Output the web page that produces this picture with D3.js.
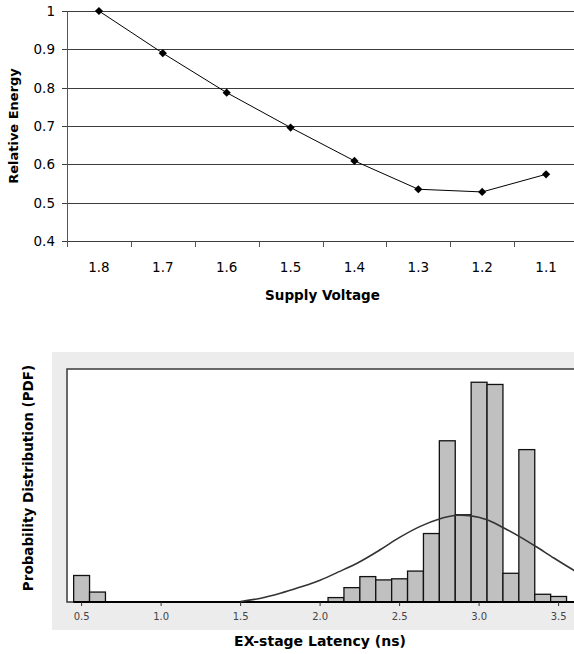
<!DOCTYPE html>
<html>
<head>
<meta charset="utf-8">
<script src="https://cdn.jsdelivr.net/npm/d3@7"></script>
<style>
  body { margin: 0; background: #fff; }
  svg { display: block; }
</style>
</head>
<body>
<div id="chart"></div>
<script>
// === DATA: top chart (relative energy vs supply voltage) ===
const voltages = ["1.8", "1.7", "1.6", "1.5", "1.4", "1.3", "1.2", "1.1"];
const relEnergy = [1.0, 0.89, 0.787, 0.696, 0.609, 0.535, 0.528, 0.574];
const energyTicks = [0.4, 0.5, 0.6, 0.7, 0.8, 0.9, 1];

// === DATA: bottom chart (EX-stage latency histogram, % of samples per 0.1 ns bin) ===
const binCenters = [0.5, 0.6, 2.1, 2.2, 2.3, 2.4, 2.5, 2.6, 2.7, 2.8, 2.9, 3.0, 3.1, 3.2, 3.3, 3.4, 3.5];
const binValues  = [2.4, 0.9, 0.4, 1.3, 2.3, 2.0, 2.1, 2.8, 6.2, 14.6, 7.9, 19.9, 19.7, 2.6, 13.8, 0.7, 0.5];
// fitted curve
const curveX = [1.50, 1.62, 1.75, 1.87, 2.00, 2.12, 2.25, 2.38, 2.50, 2.63, 2.75, 2.86, 2.94, 3.05, 3.15, 3.26, 3.36, 3.47, 3.59, 3.65];
const curveY = [0.05, 0.32, 0.79, 1.33, 1.98, 2.75, 3.65, 4.75, 5.85, 6.85, 7.52, 7.85, 7.82, 7.45, 6.75, 5.88, 5.0, 3.98, 2.92, 2.45];
const latencyTicks = [0.5, 1.0, 1.5, 2.0, 2.5, 3.0, 3.5];

const W = 574, H = 654;
const svg = d3.select("#chart").append("svg")
  .attr("width", W).attr("height", H);

const font = "'DejaVu Sans', Verdana, sans-serif";

// ---------- TOP CHART ----------
const box1 = { left: 67, right: 578, top: 11, bottom: 241 };

const x = d3.scaleBand().domain(voltages).range([box1.left, box1.right]).padding(0);
const y = d3.scaleLinear().domain([0.4, 1]).range([box1.bottom, box1.top]);

const g1 = svg.append("g");

// gridlines + y ticks
g1.selectAll("line.grid")
  .data(energyTicks)
  .join("line")
    .attr("x1", box1.left - 5).attr("x2", W)
    .attr("y1", d => Math.round(y(d)) + 0.5).attr("y2", d => Math.round(y(d)) + 0.5)
    .attr("stroke", "#3c3c3c").attr("stroke-width", 1);

g1.selectAll("text.ytick")
  .data(energyTicks)
  .join("text")
    .attr("x", 55).attr("y", d => y(d))
    .attr("dy", "0.36em")
    .attr("text-anchor", "end")
    .style("font-family", font).style("font-size", "13.5px")
    .text(d => d);

// left axis line
g1.append("line")
  .attr("x1", box1.left + 0.5).attr("x2", box1.left + 0.5)
  .attr("y1", box1.top).attr("y2", box1.bottom)
  .attr("stroke", "#555");

// x ticks on band edges
g1.selectAll("line.xtick")
  .data(voltages)
  .join("line")
    .attr("x1", d => Math.round(x(d)) + 0.5).attr("x2", d => Math.round(x(d)) + 0.5)
    .attr("y1", box1.bottom).attr("y2", box1.bottom + 6)
    .attr("stroke", "#555");

g1.selectAll("text.xtick")
  .data(voltages)
  .join("text")
    .attr("x", d => x(d) + x.bandwidth() / 2).attr("y", 272)
    .attr("text-anchor", "middle")
    .style("font-family", font).style("font-size", "13.5px")
    .text(d => d);

// line + markers
const pts = voltages.map((v, i) => ({ v, e: relEnergy[i] }));
g1.append("path")
  .datum(pts)
  .attr("fill", "none").attr("stroke", "#000").attr("stroke-width", 1)
  .attr("d", d3.line().x(d => x(d.v) + x.bandwidth() / 2).y(d => y(d.e)));

g1.selectAll("path.marker")
  .data(pts)
  .join("path")
    .attr("d", d3.symbol(d3.symbolSquare, 34))
    .attr("transform", d => `translate(${x(d.v) + x.bandwidth() / 2},${y(d.e)}) rotate(45)`)
    .attr("fill", "#000");

// axis titles
g1.append("text")
  .attr("transform", `translate(18,${(box1.top + box1.bottom) / 2}) rotate(-90)`)
  .attr("text-anchor", "middle")
  .style("font-family", font).style("font-size", "13px").style("font-weight", "bold")
  .text("Relative Energy");

g1.append("text")
  .attr("x", (box1.left + box1.right) / 2).attr("y", 300)
  .attr("text-anchor", "middle")
  .style("font-family", font).style("font-size", "13.5px").style("font-weight", "bold")
  .text("Supply Voltage");

// ---------- BOTTOM CHART ----------
const box2 = { left: 67, top: 369, bottom: 602 };

const x2 = d3.scaleLinear().domain([0.5, 3.5]).range([81.6, 558.6]);
const y2 = d3.scaleLinear().domain([0, 21.1]).range([box2.bottom, box2.top]);
const binW = 0.1;

const g2 = svg.append("g");

// grey panel
g2.append("rect")
  .attr("x", 52).attr("y", 352).attr("width", W - 52).attr("height", 278)
  .attr("fill", "#ececec");

// white plot area with frame
g2.append("rect")
  .attr("x", box2.left).attr("y", box2.top)
  .attr("width", W + 20 - box2.left).attr("height", box2.bottom - box2.top)
  .attr("fill", "#fff").attr("stroke", "#3a3a3a").attr("stroke-width", 1.5);

// bars
const bins = binCenters.map((c, i) => ({ c, v: binValues[i] }));
g2.selectAll("rect.bar")
  .data(bins)
  .join("rect")
    .attr("x", d => x2(d.c - binW / 2))
    .attr("y", d => y2(d.v))
    .attr("width", d => x2(d.c + binW / 2) - x2(d.c - binW / 2))
    .attr("height", d => y2(0) - y2(d.v))
    .attr("fill", "#c0c0c0").attr("stroke", "#111").attr("stroke-width", 1.3);

// baseline (empty bins)
g2.append("line")
  .attr("x1", x2(0.45)).attr("x2", W)
  .attr("y1", box2.bottom).attr("y2", box2.bottom)
  .attr("stroke", "#000").attr("stroke-width", 2.2);

// fitted curve
const curve = curveX.map((cx, i) => ({ cx, cy: curveY[i] }));
g2.append("path")
  .datum(curve)
  .attr("fill", "none").attr("stroke", "#333").attr("stroke-width", 1.6)
  .attr("d", d3.line().curve(d3.curveCatmullRom.alpha(0.5)).x(d => x2(d.cx)).y(d => y2(d.cy)));

// ticks
g2.selectAll("line.t2")
  .data(latencyTicks)
  .join("line")
    .attr("x1", d => x2(d)).attr("x2", d => x2(d))
    .attr("y1", box2.bottom).attr("y2", box2.bottom + 4)
    .attr("stroke", "#333");

g2.selectAll("text.t2")
  .data(latencyTicks)
  .join("text")
    .attr("x", d => x2(d)).attr("y", 620)
    .attr("text-anchor", "middle")
    .attr("fill", "#444")
    .style("font-family", font).style("font-size", "10px")
    .text(d3.format(".1f"));

// axis titles
g2.append("text")
  .attr("transform", `translate(33,${478}) rotate(-90)`)
  .attr("text-anchor", "middle")
  .style("font-family", font).style("font-size", "13.5px").style("font-weight", "bold")
  .text("Probability Distribution (PDF)");

g2.append("text")
  .attr("x", 320).attr("y", 646)
  .attr("text-anchor", "middle")
  .style("font-family", font).style("font-size", "14px").style("font-weight", "bold")
  .text("EX-stage Latency (ns)");
</script>
</body>
</html>
